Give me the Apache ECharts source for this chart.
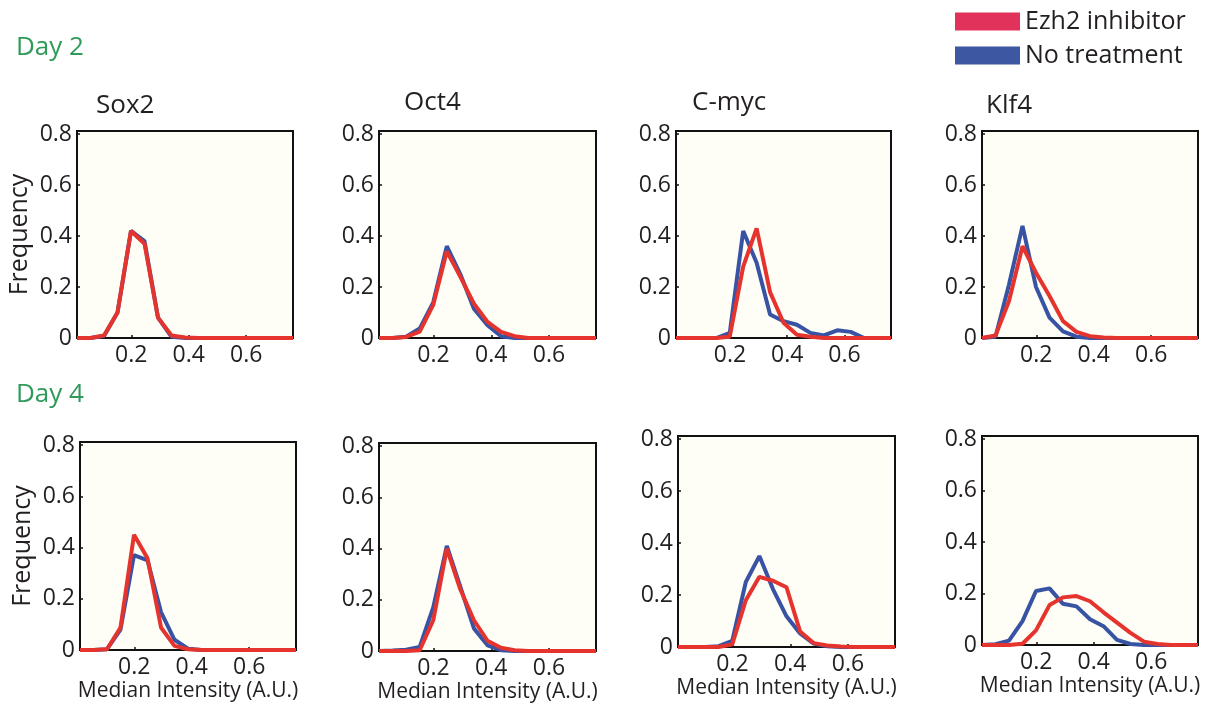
<!DOCTYPE html>
<html>
<head>
<meta charset="utf-8">
<script src="https://cdn.jsdelivr.net/npm/echarts@6/dist/echarts.min.js"></script>
<style>
html,body{margin:0;padding:0;background:#fff;}
#chart{width:1221px;height:709px;}
</style>
</head>
<body>
<div id="chart"></div>
<script>
// Bin positions (Median Intensity, A.U.)
const intensity = [0.011, 0.058, 0.105, 0.152, 0.199, 0.246, 0.293, 0.340, 0.387, 0.434, 0.481, 0.528, 0.575, 0.622, 0.669, 0.716, 0.763];
const xTicks = [0.2, 0.4, 0.6];
const yTicks = [0, 0.2, 0.4, 0.6, 0.8];
const genes = ['Sox2', 'Oct4', 'C-myc', 'Klf4'];
const days = ['Day 2', 'Day 4'];
const legendNames = ['Ezh2 inhibitor', 'No treatment'];

// Day 2
const sox2D2Ezh2 = [0, 0, 0.01, 0.10, 0.42, 0.37, 0.08, 0.01, 0.002, 0, 0, 0, 0, 0, 0, 0, 0];
const sox2D2None = [0, 0, 0.008, 0.10, 0.42, 0.38, 0.08, 0.005, 0, 0, 0, 0, 0, 0, 0, 0, 0];
const oct4D2Ezh2 = [0, 0, 0.004, 0.025, 0.13, 0.34, 0.24, 0.135, 0.063, 0.024, 0.007, 0, 0, 0, 0, 0, 0];
const oct4D2None = [0, 0, 0.005, 0.037, 0.14, 0.36, 0.25, 0.115, 0.05, 0.007, 0, 0, 0, 0, 0, 0, 0];
const cmycD2Ezh2 = [0, 0, 0, 0, 0.005, 0.28, 0.43, 0.18, 0.06, 0.013, 0.005, 0, 0, 0, 0, 0, 0];
const cmycD2None = [0, 0, 0, 0, 0.02, 0.42, 0.295, 0.092, 0.066, 0.052, 0.02, 0.01, 0.03, 0.024, 0, 0, 0];
const klf4D2Ezh2 = [0, 0.01, 0.145, 0.36, 0.256, 0.165, 0.066, 0.024, 0.007, 0.002, 0, 0, 0, 0, 0, 0, 0];
const klf4D2None = [0, 0.005, 0.21, 0.44, 0.20, 0.08, 0.026, 0.005, 0, 0, 0, 0, 0, 0, 0, 0, 0];
// Day 4
const sox2D4Ezh2 = [0, 0, 0.003, 0.088, 0.45, 0.358, 0.088, 0.016, 0.003, 0, 0, 0, 0, 0, 0, 0, 0];
const sox2D4None = [0, 0, 0.003, 0.08, 0.37, 0.35, 0.148, 0.04, 0.005, 0, 0, 0, 0, 0, 0, 0, 0];
const oct4D4Ezh2 = [0, 0, 0, 0.003, 0.12, 0.40, 0.24, 0.12, 0.04, 0.013, 0.003, 0, 0, 0, 0, 0, 0];
const oct4D4None = [0, 0.002, 0.005, 0.016, 0.17, 0.41, 0.25, 0.088, 0.022, 0.003, 0, 0, 0, 0, 0, 0, 0];
const cmycD4Ezh2 = [0, 0, 0, 0, 0.01, 0.18, 0.27, 0.255, 0.23, 0.06, 0.015, 0.006, 0.002, 0, 0, 0, 0];
const cmycD4None = [0, 0, 0, 0.003, 0.024, 0.25, 0.35, 0.223, 0.118, 0.052, 0.013, 0.003, 0, 0, 0, 0, 0];
const klf4D4Ezh2 = [0, 0, 0, 0.005, 0.057, 0.155, 0.185, 0.19, 0.17, 0.127, 0.087, 0.047, 0.013, 0.004, 0, 0, 0];
const klf4D4None = [0, 0.003, 0.017, 0.093, 0.21, 0.22, 0.16, 0.15, 0.10, 0.073, 0.02, 0.004, 0, 0, 0, 0, 0];

const panelsEzh2 = [sox2D2Ezh2, oct4D2Ezh2, cmycD2Ezh2, klf4D2Ezh2, sox2D4Ezh2, oct4D4Ezh2, cmycD4Ezh2, klf4D4Ezh2];
const panelsNone = [sox2D2None, oct4D2None, cmycD2None, klf4D2None, sox2D4None, oct4D4None, cmycD4None, klf4D4None];

// layout
const grids = [
  {left: 77, top: 131, width: 216, height: 207},
  {left: 379, top: 131, width: 217, height: 207},
  {left: 676, top: 131, width: 215, height: 207},
  {left: 982, top: 131, width: 216, height: 207},
  {left: 80, top: 442, width: 216, height: 208},
  {left: 379, top: 443, width: 217, height: 208},
  {left: 678, top: 436, width: 217, height: 211},
  {left: 982, top: 436, width: 216, height: 209}
];
const titlePos = [[96, 93], [404, 90], [692, 90], [986, 93]];

const FONT = '"Open Sans", "Noto Sans", sans-serif';
const TXT = '#231f20';
const RED = '#e5332e';
const BLUE = '#3953a4';

const pair = (arr) => arr.map((v, i) => [intensity[i], v]);

const option = {
  backgroundColor: '#ffffff',
  animation: false,
  textStyle: {fontFamily: FONT},
  title: [
    {text: days[0], left: 16, top: 35, padding: 0, textStyle: {fontFamily: FONT, fontSize: 26, fontWeight: 'normal', color: '#2f9a5a'}},
    {text: days[1], left: 16, top: 382, padding: 0, textStyle: {fontFamily: FONT, fontSize: 26, fontWeight: 'normal', color: '#2f9a5a'}}
  ].concat(genes.map((g, i) => ({
    text: g, left: titlePos[i][0], top: titlePos[i][1], padding: 0,
    textStyle: {fontFamily: FONT, fontSize: 26, fontWeight: 'normal', color: TXT}
  }))),
  legend: {
    orient: 'vertical', left: 955, top: 9, padding: 0,
    itemWidth: 65, itemHeight: 18, itemGap: 9, icon: 'rect',
    textStyle: {fontFamily: FONT, fontSize: 25, color: TXT, lineHeight: 25},
    data: [
      {name: legendNames[0], itemStyle: {color: '#e0325a'}},
      {name: legendNames[1], itemStyle: {color: '#3d57a2'}}
    ]
  },
  grid: grids.map(g => Object.assign({show: true, backgroundColor: '#fefef6', borderColor: '#111', borderWidth: 2, containLabel: false}, g)),
  xAxis: grids.map((g, i) => ({
    type: 'value', gridIndex: i, min: intensity[0], max: intensity[intensity.length - 1],
    name: i >= 4 ? 'Median Intensity (A.U.)' : '',
    nameLocation: 'middle', nameGap: 31,
    nameTextStyle: {fontFamily: FONT, fontSize: 21, color: TXT},
    axisLine: {show: false},
    splitLine: {show: false},
    axisTick: {show: true, inside: true, length: 3, customValues: xTicks, lineStyle: {color: '#111', width: 1.5}},
    axisLabel: {show: true, margin: 6, customValues: xTicks, fontFamily: FONT, fontSize: 23, color: TXT, formatter: v => v.toFixed(1)}
  })),
  yAxis: grids.map((g, i) => ({
    type: 'value', gridIndex: i, min: 0, max: 0.812,
    name: (i % 4 === 0) ? 'Frequency' : '',
    nameLocation: 'middle', nameGap: 45, nameRotate: 90,
    nameTextStyle: {fontFamily: FONT, fontSize: 25, color: TXT},
    axisLine: {show: false},
    splitLine: {show: false},
    axisTick: {show: true, inside: true, length: 3, customValues: yTicks, lineStyle: {color: '#111', width: 1.5}},
    axisLabel: {show: true, margin: 5, customValues: yTicks, fontFamily: FONT, fontSize: 23, color: TXT,
      formatter: v => v === 0 ? '0' : v.toFixed(1)}
  })),
  series: []
};

for (let i = 0; i < 8; i++) {
  option.series.push({
    name: legendNames[1], type: 'line', xAxisIndex: i, yAxisIndex: i,
    data: pair(panelsNone[i]), symbol: 'none', lineStyle: {color: BLUE, width: 4}, itemStyle: {color: BLUE}, z: 2
  });
  option.series.push({
    name: legendNames[0], type: 'line', xAxisIndex: i, yAxisIndex: i,
    data: pair(panelsEzh2[i]), symbol: 'none', lineStyle: {color: RED, width: 4}, itemStyle: {color: RED}, z: 3
  });
}

const chart = echarts.init(document.getElementById('chart'), null, {renderer: 'canvas'});
chart.setOption(option);
</script>
</body>
</html>
